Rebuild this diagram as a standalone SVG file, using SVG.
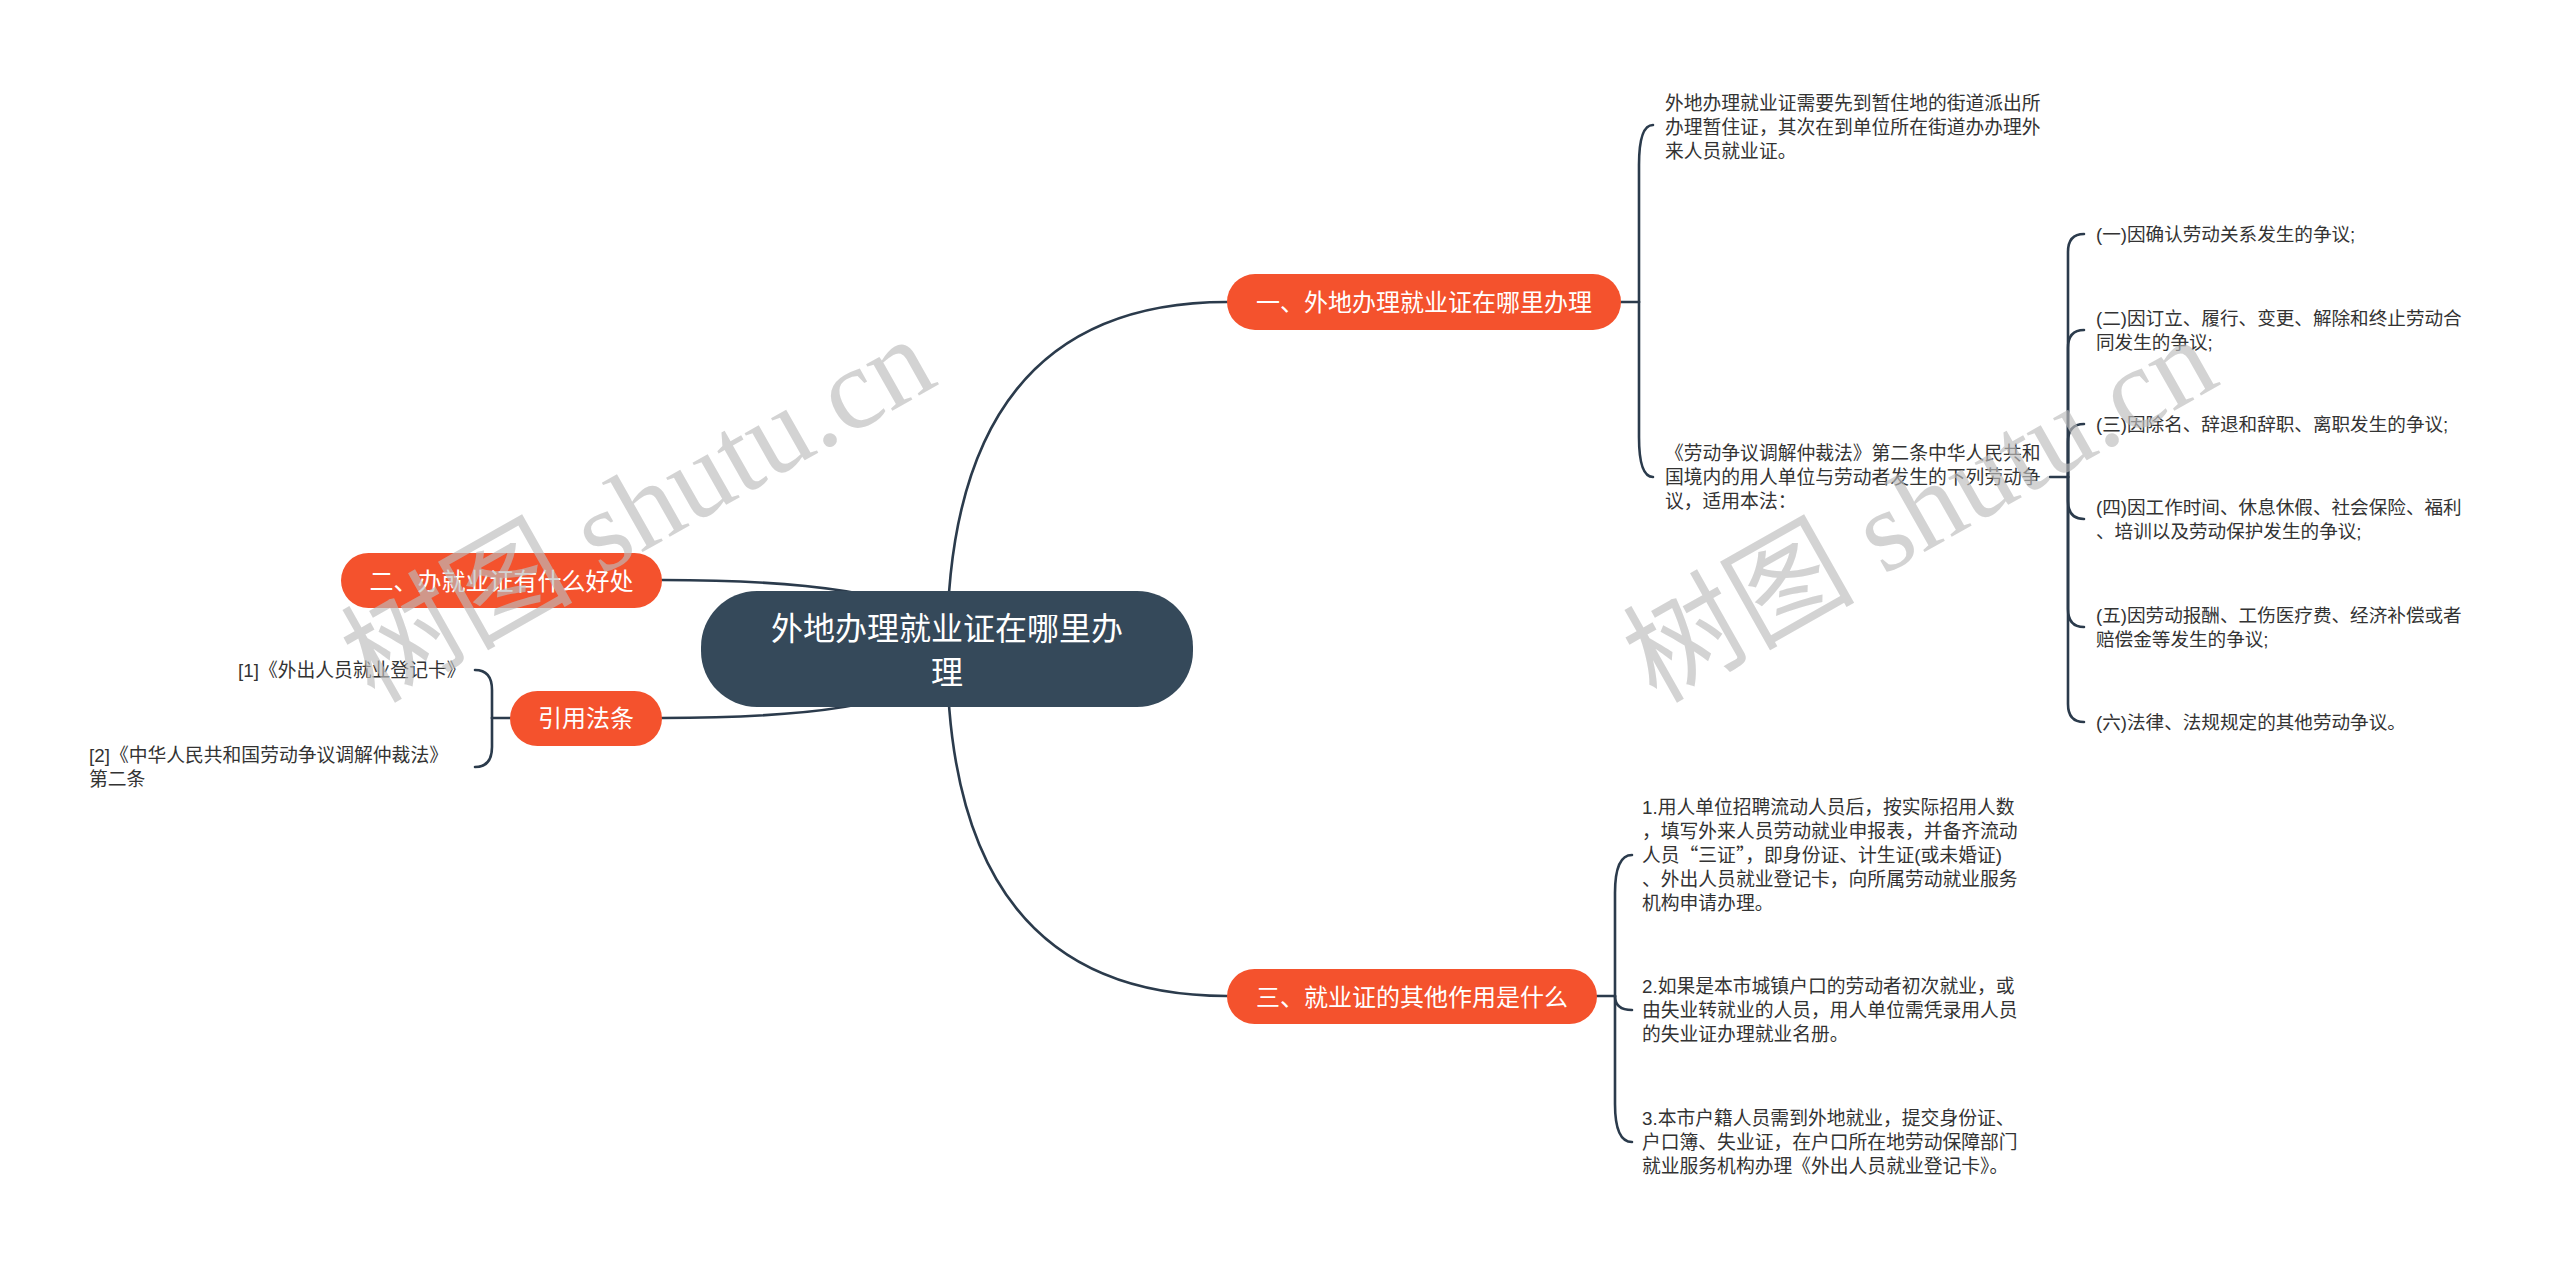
<svg xmlns="http://www.w3.org/2000/svg" width="2560" height="1267" viewBox="0 0 2560 1267">
<style>
.bg{fill:#ffffff}
.link{fill:none;stroke:#2b3b4c;stroke-width:2.6;stroke-linecap:round}
.root{fill:#35495a}
.main{fill:#f4522d}
.tw{fill:#ffffff;font-family:"Liberation Sans","Noto Sans CJK SC",sans-serif;text-anchor:middle}
.t1{font-size:32px}
.t2{font-size:24px}
.leaf{fill:#333333;font-family:"Liberation Sans","Noto Sans CJK SC",sans-serif;font-size:18.8px}
.leaf3{fill:#333333;font-family:"Liberation Sans","Noto Sans CJK SC",sans-serif;font-size:18.6px}
.cjk{font-family:"Noto Sans CJK SC",sans-serif}
.wm{fill:#bdbdbd;opacity:0.65;font-family:"Liberation Serif","Noto Sans CJK SC",serif;font-size:116px}
</style>
<rect class="bg" x="0" y="0" width="2560" height="1267"/>
<g id="connectors">
<path class="link" d="M 947 649 Q 947 302 1227 302"/>
<path class="link" d="M 947 649 Q 947 996 1227 996"/>
<path class="link" d="M 947 649 Q 947 580 662 580"/>
<path class="link" d="M 947 649 Q 947 718 662 718"/>
<path class="link" d="M 1621 302 H 1639"/>
<path class="link" d="M 1639 302 V 165 Q 1639 125 1653 125"/>
<path class="link" d="M 1639 302 V 437 Q 1639 477 1653 477"/>
<path class="link" d="M 2050 477 H 2068"/>
<path class="link" d="M 2068 477 V 252 Q 2068 234 2084 234"/>
<path class="link" d="M 2068 477 V 348 Q 2068 330 2084 330"/>
<path class="link" d="M 2068 477 V 442 Q 2068 424 2084 424"/>
<path class="link" d="M 2068 477 V 501 Q 2068 519 2084 519"/>
<path class="link" d="M 2068 477 V 609 Q 2068 627 2084 627"/>
<path class="link" d="M 2068 477 V 704 Q 2068 722 2084 722"/>
<path class="link" d="M 1597 996 H 1615"/>
<path class="link" d="M 1615 996 V 893 Q 1615 855 1632 855"/>
<path class="link" d="M 1615 996 Q 1615 1010 1632 1010"/>
<path class="link" d="M 1615 996 V 1104 Q 1615 1142 1632 1142"/>
<path class="link" d="M 510 718 H 492"/>
<path class="link" d="M 492 718 V 690 Q 492 670 475 670"/>
<path class="link" d="M 492 718 V 747 Q 492 767 475 767"/>
</g>
<g id="root">
<rect class="root" x="701" y="591" width="492" height="116" rx="56"/>
<text class="tw t1" x="947" y="640">外地办理就业证在哪里办</text>
<text class="tw t1" x="947" y="684">理</text>
</g>
<g id="branch1">
<rect class="main" x="1227" y="274" width="394" height="56" rx="28"/>
<text class="tw t2" x="1424" y="311">一、外地办理就业证在哪里办理</text>
</g>
<g id="branch2">
<rect class="main" x="341" y="553" width="321" height="55" rx="27.5"/>
<text class="tw t2" x="501.5" y="590">二、办就业证有什么好处</text>
</g>
<g id="branch3">
<rect class="main" x="1227" y="969" width="370" height="55" rx="27.5"/>
<text class="tw t2" x="1412" y="1006">三、就业证的其他作用是什么</text>
</g>
<g id="branch4">
<rect class="main" x="510" y="691" width="152" height="55" rx="27.5"/>
<text class="tw t2" x="586" y="727">引用法条</text>
</g>
<g id="leafA">
<text class="leaf" x="1665" y="110">外地办理就业证需要先到暂住地的街道派出所</text>
<text class="leaf" x="1665" y="134">办理暂住证，其次在到单位所在街道办办理外</text>
<text class="leaf" x="1665" y="158">来人员就业证。</text>
</g>
<g id="leafB">
<text class="leaf" x="1665" y="460">《劳动争议调解仲裁法》第二条中华人民共和</text>
<text class="leaf" x="1665" y="484">国境内的用人单位与劳动者发生的下列劳动争</text>
<text class="leaf" x="1665" y="508">议，适用本法：</text>
</g>
<g id="leafB1"><text class="leaf3" x="2096" y="241">(一)因确认劳动关系发生的争议;</text></g>
<g id="leafB2">
<text class="leaf3" x="2096" y="325">(二)因订立、履行、变更、解除和终止劳动合</text>
<text class="leaf3" x="2096" y="349">同发生的争议;</text>
</g>
<g id="leafB3"><text class="leaf3" x="2096" y="431">(三)因除名、辞退和辞职、离职发生的争议;</text></g>
<g id="leafB4">
<text class="leaf3" x="2096" y="514">(四)因工作时间、休息休假、社会保险、福利</text>
<text class="leaf3" x="2096" y="538">、培训以及劳动保护发生的争议;</text>
</g>
<g id="leafB5">
<text class="leaf3" x="2096" y="622">(五)因劳动报酬、工伤医疗费、经济补偿或者</text>
<text class="leaf3" x="2096" y="646">赔偿金等发生的争议;</text>
</g>
<g id="leafB6"><text class="leaf3" x="2096" y="729">(六)法律、法规规定的其他劳动争议。</text></g>
<g id="leafC1">
<text class="leaf" x="1642" y="814">1.用人单位招聘流动人员后，按实际招用人数</text>
<text class="leaf" x="1642" y="838">，填写外来人员劳动就业申报表，并备齐流动</text>
<text class="leaf" x="1642" y="862">人员<tspan class="cjk">“</tspan>三证<tspan class="cjk">”</tspan>，即身份证、计生证(或未婚证)</text>
<text class="leaf" x="1642" y="886">、外出人员就业登记卡，向所属劳动就业服务</text>
<text class="leaf" x="1642" y="910">机构申请办理。</text>
</g>
<g id="leafC2">
<text class="leaf" x="1642" y="993">2.如果是本市城镇户口的劳动者初次就业，或</text>
<text class="leaf" x="1642" y="1017">由失业转就业的人员，用人单位需凭录用人员</text>
<text class="leaf" x="1642" y="1041">的失业证办理就业名册。</text>
</g>
<g id="leafC3">
<text class="leaf" x="1642" y="1125">3.本市户籍人员需到外地就业，提交身份证、</text>
<text class="leaf" x="1642" y="1149">户口簿、失业证，在户口所在地劳动保障部门</text>
<text class="leaf" x="1642" y="1173">就业服务机构办理《外出人员就业登记卡》。</text>
</g>
<g id="leafD1"><text class="leaf" x="238" y="677">[1]《外出人员就业登记卡》</text></g>
<g id="leafD2">
<text class="leaf" x="89" y="762">[2]《中华人民共和国劳动争议调解仲裁法》</text>
<text class="leaf" x="89" y="786">第二条</text>
</g>
<g id="watermarks">
<text class="wm" x="374" y="704" transform="rotate(-29.5 374 704)">树图 shutu.cn</text>
<text class="wm" x="1656" y="704" transform="rotate(-29.5 1656 704)">树图 shutu.cn</text>
</g>
</svg>
